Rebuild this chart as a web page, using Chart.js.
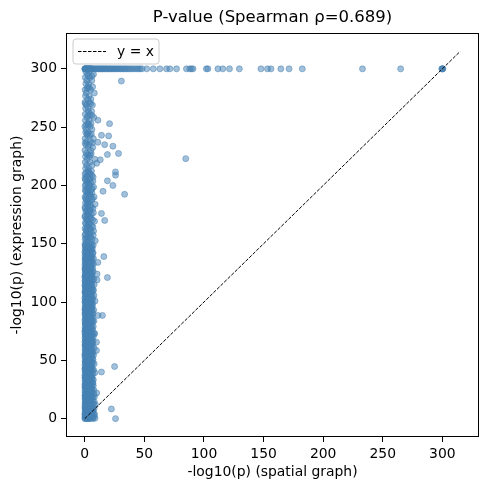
<!DOCTYPE html>
<html>
<head>
<meta charset="utf-8">
<script src="https://cdn.jsdelivr.net/npm/chart.js@4.4.0/dist/chart.umd.min.js"></script>
<style>
  html, body { margin: 0; padding: 0; background: #fff; }
  #wrap { width: 490px; height: 490px; }
</style>
</head>
<body>
<div id="wrap"><canvas id="myChart" width="490" height="490"></canvas></div>
<script>
var titleText = 'P-value (Spearman \u03c1=0.689)';
var xLabel = '-log10(p) (spatial graph)';
var yLabel = '-log10(p) (expression graph)';
var tickValues = [0, 50, 100, 150, 200, 250, 300];
var axisMin = -15.75, axisMax = 330.75;
var diagLine = [0, 315];

// points capped at -log10(p) = 300 (expression graph), spatial values
var capValue = 300;
var capRowX = [0.0, 0.2, 0.4, 0.6, 0.9, 1.3, 1.7, 2.1, 2.5, 2.8, 3.3, 3.6, 4.1, 4.5, 5.0, 5.2, 5.8, 6.1,
  7.0, 7.8, 8.9, 9.7, 10.8, 11.6, 12.7, 13.5, 14.6, 15.4, 16.5, 17.6, 18.4, 19.5, 20.7, 21.6, 22.8,
  23.9, 25.1, 26.2, 27.4, 28.7, 29.9, 31.2, 32.6, 33.9, 35.3, 36.8, 38.2, 39.9, 41.5, 43.2, 44.9, 46.4,
  48.0, 52.0, 57.5, 63.0, 68.6, 71.4, 77.0, 85.3, 88.0, 89.5, 90.8, 102.0, 103.3, 111.7, 115.8, 121.4,
  129.7, 147.8, 153.3, 156.2, 164.5, 171.4, 182.5, 233.0, 265.0, 299.5, 300.0, 300.2, 300.4];

// dense column near spatial = 0: [expression, spatial, spatial, ...]
var columnRows = [
  [0, 0.1, 1.2, 3.5, 6.8], [0.8, 0.4, 2.1, 5.0], [1.5, 0.2, 1.8, 4.3, 7.5], [2.6, 0.6, 3.0, 5.9],
  [3.4, 0.1, 2.4, 8.2], [4.7, 1.0, 3.8, 6.1], [5.9, 0.3, 2.7, 5.2], [7.1, 0.8, 4.4, 7.0],
  [8.2, 0.2, 1.9, 5.6], [9.8, 0.5, 3.3, 6.4], [11.0, 0.1, 2.2, 4.9], [12.5, 0.9, 3.6, 7.3],
  [13.7, 0.3, 2.8, 5.4], [15.2, 0.6, 4.1, 6.6], [16.8, 0.2, 1.7, 5.0], [18.1, 0.7, 3.4, 6.9],
  [19.6, 0.1, 2.5, 4.6], [21.0, 0.8, 3.9, 7.7], [22.4, 0.4, 2.0, 5.3], [23.9, 0.2, 3.1, 6.2],
  [25.3, 0.9, 4.5, 6.0], [26.6, 0.3, 2.6, 5.1], [28.2, 0.5, 3.7, 7.1], [29.5, 0.1, 1.6, 4.8],
  [31.0, 0.6, 3.2, 6.5], [32.6, 0.2, 2.3, 5.5], [34.1, 0.8, 4.0, 6.3], [35.5, 0.4, 2.9, 5.7],
  [37.0, 0.1, 1.9, 4.4], [38.6, 0.7, 3.5, 6.8], [40.1, 0.3, 2.4, 5.2], [41.7, 0.5, 4.2, 7.4],
  [43.0, 0.2, 2.1, 5.8], [44.6, 0.9, 3.3, 6.1], [46.2, 0.1, 2.7, 4.7], [47.8, 0.6, 3.8, 6.6],
  [49.1, 0.3, 1.8, 5.4], [50.7, 0.8, 3.0, 6.9], [52.3, 0.2, 2.6, 4.9], [53.8, 0.5, 4.1, 6.2],
  [55.2, 0.1, 2.2, 5.6], [56.9, 0.7, 3.4, 7.0], [58.3, 0.4, 2.8, 5.0], [59.9, 0.2, 1.5, 4.6],
  [61.4, 0.9, 3.7, 6.4], [62.8, 0.3, 2.4, 5.3], [64.5, 0.6, 4.3, 6.7], [66.0, 0.1, 2.0, 5.1],
  [67.4, 0.8, 3.1, 6.0], [69.1, 0.2, 2.9, 4.8], [70.6, 0.5, 3.6, 7.2], [72.2, 0.3, 1.7, 5.5],
  [73.7, 0.7, 4.0, 6.3], [75.1, 0.1, 2.5, 5.0], [76.8, 0.4, 3.2, 6.6], [78.2, 0.2, 2.1, 4.7],
  [79.9, 0.9, 3.9, 5.9], [81.5, 0.3, 2.6, 5.2], [83.0, 0.6, 1.9, 6.8], [84.6, 0.1, 3.4, 5.4],
  [86.1, 0.5, 2.3, 4.5], [87.7, 0.8, 3.7, 6.1], [89.2, 0.2, 2.8, 5.7], [90.8, 0.4, 1.6, 4.9],
  [92.3, 0.7, 3.0, 6.4], [93.9, 0.1, 2.4, 5.3], [95.4, 0.5, 4.2, 6.0], [97.0, 0.3, 2.0, 5.1],
  [98.5, 0.9, 3.5, 6.7], [100.1, 0.2, 2.7, 4.8], [101.8, 0.6, 3.8, 5.8], [103.2, 0.1, 1.8, 5.0],
  [104.9, 0.4, 3.1, 6.3], [106.4, 0.8, 2.5, 4.6], [108.0, 0.2, 3.6, 5.9], [109.6, 0.5, 2.2, 6.9],
  [111.1, 0.3, 4.0, 5.4], [112.7, 0.7, 2.9, 4.7], [114.3, 0.1, 1.7, 6.1], [115.8, 0.6, 3.3, 5.6],
  [117.4, 0.2, 2.6, 4.9], [119.0, 0.9, 3.9, 6.5], [120.6, 0.4, 2.1, 5.2], [122.2, 0.1, 3.0, 4.4],
  [123.7, 0.7, 2.4, 6.0], [125.3, 0.3, 3.7, 5.5], [127.0, 0.5, 1.9, 4.8], [128.6, 0.2, 2.8, 6.7],
  [130.1, 0.8, 3.4, 5.1], [131.8, 0.1, 2.3, 4.6], [133.3, 0.6, 3.8, 5.8], [135.0, 0.3, 2.0, 4.9],
  [136.6, 0.4, 3.2, 6.2], [138.2, 0.9, 2.6, 5.3], [139.8, 0.2, 4.1, 5.0], [141.5, 0.5, 2.2, 6.6],
  [143.0, 0.1, 3.5, 4.7], [144.7, 0.7, 2.9, 5.7], [146.3, 0.3, 1.8, 4.4], [148.0, 0.6, 3.1, 6.0],
  [149.6, 0.2, 2.5, 5.2],
  [151.5, 1.2, 4.6], [153.8, 0.3, 6.2], [156.0, 2.4, 5.1], [158.4, 0.7, 3.6], [160.9, 1.5, 7.4],
  [163.1, 0.2, 4.0], [165.7, 2.9, 5.8], [168.0, 0.5, 3.3], [170.6, 1.8, 6.6], [172.9, 0.1, 4.4],
  [175.3, 2.2, 5.5], [177.8, 0.9, 3.9], [180.2, 0.4, 6.9], [182.7, 2.6, 4.8], [185.0, 0.6, 3.0],
  [187.6, 1.4, 5.9], [190.1, 0.2, 7.8], [192.5, 3.1, 4.5], [194.9, 0.8, 2.7], [197.4, 1.7, 6.3],
  [199.8, 0.3, 4.1], [202.3, 2.5, 5.2], [204.9, 0.5, 3.5], [207.2, 1.1, 7.0], [209.8, 0.2, 4.7],
  [212.4, 2.8, 5.6], [214.7, 0.7, 3.2], [217.3, 1.6, 6.1], [219.9, 0.4, 4.3], [222.4, 2.1, 8.5],
  [224.8, 0.6, 3.7], [227.5, 1.3, 5.4], [230.1, 0.2, 4.9], [232.6, 2.7, 6.7], [235.0, 0.9, 3.4],
  [237.7, 1.5, 5.0], [240.2, 0.3, 7.2], [242.8, 2.3, 4.2], [245.5, 0.8, 3.0], [248.0, 1.0, 6.0],
  [250.6, 0.1, 4.6], [253.1, 2.6, 5.3], [255.8, 0.5, 3.8], [258.3, 1.9, 7.6], [261.0, 0.4, 4.4],
  [263.6, 3.0, 5.7], [266.1, 0.7, 2.9], [268.9, 1.4, 6.4], [271.4, 0.2, 4.0], [274.0, 2.4, 5.1],
  [276.7, 0.6, 3.6], [279.3, 1.2, 8.0], [282.0, 0.3, 4.8], [284.6, 2.8, 6.6], [287.3, 0.9, 3.3],
  [290.0, 1.7, 5.9], [292.6, 0.4, 4.5], [295.3, 2.2, 7.3], [297.8, 0.8, 3.9]
];

// second pass of column genes, filling between the rows above
var columnRowsExtra = [
  [0.4, 2.8, 4.9, 8.6], [1.1, 0.9, 5.7], [2.0, 2.6, 6.5], [3.0, 1.4, 4.8], [4.1, 0.2, 5.4, 7.9],
  [5.3, 2.0, 4.6], [6.5, 1.5, 6.9], [7.7, 2.9, 5.1], [9.0, 1.1, 7.8], [10.4, 2.6, 4.5],
  [11.8, 1.4, 6.0], [13.1, 0.5, 4.8], [14.5, 2.2, 8.0], [16.0, 1.0, 4.6], [17.4, 2.5, 5.9],
  [18.9, 1.3, 8.1], [20.3, 0.4, 5.7], [21.7, 2.6, 5.0], [23.2, 1.1, 4.4], [24.6, 2.3, 7.6],
  [26.0, 1.5, 5.6], [27.4, 0.2, 4.3], [28.9, 2.0, 5.8], [30.3, 1.2, 6.9], [31.8, 2.7, 4.0],
  [33.3, 1.4, 7.2], [34.8, 0.3, 5.0], [36.3, 2.5, 6.1], [37.8, 1.0, 4.7], [39.4, 2.1, 8.4],
  [40.9, 1.6, 4.5], [42.3, 0.2, 6.3], [43.8, 2.9, 5.3], [45.4, 1.3, 4.1], [47.0, 2.2, 7.9],
  [48.5, 0.5, 5.9], [49.9, 1.4, 4.3], [51.5, 2.8, 6.4], [53.0, 1.1, 5.2], [54.5, 0.2, 7.4],
  [56.0, 1.7, 4.8], [57.6, 2.6, 6.1], [59.1, 1.0, 5.5], [60.6, 2.3, 7.8], [62.1, 1.5, 4.2],
  [63.6, 0.3, 5.9], [65.2, 2.2, 4.9], [66.7, 1.3, 7.0], [68.3, 2.5, 5.3], [69.8, 1.0, 4.0],
  [71.4, 2.0, 6.3], [73.0, 1.5, 8.3], [74.4, 0.2, 4.6], [76.0, 2.7, 5.8], [77.5, 1.1, 4.3],
  [79.0, 2.4, 7.1], [80.7, 1.6, 4.5], [82.2, 0.4, 5.7], [83.8, 2.1, 7.7], [85.3, 1.2, 6.5],
  [86.9, 2.9, 5.0], [88.5, 1.0, 4.4], [90.0, 2.3, 6.9], [91.6, 1.4, 5.4], [93.1, 0.3, 7.5],
  [94.7, 2.2, 4.8], [96.2, 1.3, 6.3], [97.8, 2.6, 4.2], [99.3, 1.1, 5.6], [100.9, 0.4, 8.6],
  [102.5, 2.0, 6.6], [104.0, 1.5, 4.3], [105.7, 2.8, 7.7], [107.2, 1.2, 5.3], [108.8, 0.3, 4.1],
  [110.3, 2.4, 7.3], [111.9, 1.6, 6.2], [113.5, 0.5, 4.4], [115.0, 2.1, 7.9], [116.6, 1.0, 5.0],
  [118.2, 2.7, 4.2], [119.8, 1.3, 7.6], [121.4, 0.2, 6.2], [123.0, 2.2, 5.6], [124.5, 1.4, 4.0],
  [126.2, 2.6, 7.0], [127.8, 1.1, 5.4], [129.3, 0.4, 4.3], [131.0, 2.0, 6.1], [132.6, 1.5, 7.2],
  [134.2, 2.8, 5.6], [135.8, 1.2, 4.5], [137.4, 0.3, 7.3], [139.0, 2.2, 5.9], [140.7, 1.3, 4.2],
  [142.2, 2.5, 7.0], [143.8, 1.0, 5.4], [145.5, 2.1, 6.3], [147.1, 1.5, 4.7], [148.8, 0.4, 7.1],
  [152.6, 2.2, 8.8], [154.9, 1.0, 3.9], [157.2, 0.2, 7.1], [159.6, 2.6, 5.5], [162.0, 1.1, 4.7],
  [164.4, 2.0, 6.8], [166.9, 0.9, 4.2], [169.3, 2.7, 8.2], [171.7, 1.3, 5.0], [174.1, 0.4, 3.7],
  [176.5, 2.8, 7.2], [179.0, 1.6, 4.5], [181.4, 0.2, 5.6], [183.9, 1.9, 8.7], [186.3, 2.7, 4.2],
  [188.8, 0.7, 6.4], [191.3, 1.5, 4.9], [193.7, 2.3, 6.0], [196.2, 0.4, 5.3], [198.6, 2.9, 7.4],
  [201.0, 1.0, 3.8], [203.6, 1.8, 6.8], [206.0, 0.3, 4.4], [208.5, 2.4, 5.9], [211.1, 1.2, 3.6],
  [226.1, 2.5, 4.6], [236.3, 0.4, 6.3], [244.1, 1.8, 5.5], [251.9, 1.2, 3.2], [260.0, 2.6, 6.0],
  [270.1, 0.5, 5.0], [283.3, 1.9, 3.7], [293.9, 2.9, 6.1]
];

// third pass for the darkest (low-p) part of the column
var columnRowsLow = [
  [0.2, 1.6, 3.9], [1.9, 0.8, 3.3], [3.8, 1.9, 4.0], [5.6, 0.5, 3.6], [7.4, 1.7, 3.2],
  [9.3, 0.3, 2.9], [11.3, 1.5, 3.8], [13.4, 0.9, 3.1], [15.6, 1.9, 4.2], [17.8, 0.4, 3.0],
  [19.9, 1.3, 3.7], [22.0, 0.7, 4.1], [24.2, 1.8, 3.3], [26.3, 0.5, 3.9], [28.5, 1.4, 3.0],
  [30.6, 0.9, 4.3], [32.9, 1.6, 3.5], [35.0, 0.3, 3.2], [37.3, 1.2, 4.0], [39.6, 0.8, 3.4],
  [41.9, 1.9, 3.0], [44.1, 0.4, 3.8], [46.5, 1.4, 4.2], [48.8, 0.9, 3.3], [51.1, 1.7, 3.6],
  [53.4, 0.5, 3.0], [55.7, 1.3, 4.1], [58.0, 0.8, 3.5], [60.3, 1.8, 3.2], [62.5, 0.3, 3.9],
  [64.9, 1.5, 3.4], [67.2, 0.7, 4.0], [69.5, 1.6, 3.1], [71.9, 0.4, 3.7], [74.2, 1.2, 3.3],
  [76.4, 0.9, 4.2], [78.8, 1.9, 3.0], [81.1, 0.5, 3.6], [83.4, 1.4, 3.9], [85.8, 0.8, 3.2],
  [88.1, 1.7, 3.8], [90.4, 0.3, 3.4], [92.8, 1.3, 4.1], [95.1, 0.7, 3.0], [97.4, 1.8, 3.6],
  [99.7, 0.4, 3.3], [102.1, 1.5, 4.0], [104.4, 0.9, 3.1], [106.8, 1.6, 3.7], [109.1, 0.5, 4.2],
  [111.5, 1.2, 3.4], [113.9, 0.8, 3.0], [116.2, 1.9, 3.8], [118.6, 0.3, 3.5], [121.0, 1.4, 4.1],
  [123.3, 0.7, 3.2], [125.7, 1.7, 3.9], [128.0, 0.4, 3.3], [130.5, 1.3, 4.0], [132.9, 0.9, 3.6]
];

// scattered points away from the column: [spatial, expression]
var outliers = [
  [30.7, 289.5], [20.8, 253], [11, 256], [20, 242.5], [14, 243], [16.7, 235], [23.6, 233.7],
  [11, 237], [28.3, 227.4], [19, 226.5], [84.7, 223], [13, 222], [10, 219], [25.8, 211.6],
  [25.8, 208.8], [19, 204], [23.6, 200], [33.4, 192.4], [15.3, 195], [14, 176], [16.7, 170],
  [16, 139], [19, 121], [10.3, 119], [10.3, 124], [11, 134], [25, 44.7], [14, 40], [22.3, 8.3],
  [25.8, 0], [14.8, 88.5], [11, 88.5], [9.8, 65.6], [9.8, 58.4], [8, 73], [10, 22], [9, 12]
];

var points = [];
capRowX.forEach(function (x) { points.push({x: x, y: capValue}); });
columnRows.concat(columnRowsExtra, columnRowsLow).forEach(function (row) {
  for (var i = 1; i < row.length; i++) points.push({x: row[i], y: row[0]});
});
outliers.forEach(function (p) { points.push({x: p[0], y: p[1]}); });

// matplotlib-like frame, title and legend
var decor = {
  id: 'decor',
  afterDraw: function (chart) {
    var c = chart.ctx, a = chart.chartArea;
    c.save();
    c.strokeStyle = '#000';
    c.lineWidth = 1;
    c.strokeRect(a.left + 0.5, a.top + 0.5, a.right - a.left - 1, a.bottom - a.top - 1);

    c.fillStyle = '#000';
    c.font = '16.5px "DejaVu Sans"';
    c.textAlign = 'center';
    c.textBaseline = 'middle';
    c.fillText(titleText, (a.left + a.right) / 2, 18);

    // legend box
    var bx = a.left + 7, by = a.top + 6, bw = 86, bh = 25, r = 3;
    c.beginPath();
    c.moveTo(bx + r, by);
    c.arcTo(bx + bw, by, bx + bw, by + bh, r);
    c.arcTo(bx + bw, by + bh, bx, by + bh, r);
    c.arcTo(bx, by + bh, bx, by, r);
    c.arcTo(bx, by, bx + bw, by, r);
    c.closePath();
    c.fillStyle = 'rgba(255,255,255,0.8)';
    c.fill();
    c.strokeStyle = '#cccccc';
    c.stroke();
    c.beginPath();
    c.setLineDash([3.5, 1.5]);
    c.strokeStyle = '#000';
    c.lineWidth = 1;
    c.moveTo(bx + 5, by + 12.5);
    c.lineTo(bx + 33, by + 12.5);
    c.stroke();
    c.setLineDash([]);
    c.fillStyle = '#000';
    c.font = '13.9px "DejaVu Sans"';
    c.textAlign = 'left';
    c.fillText('y = x', bx + 44, by + 13);
    c.restore();
  }
};

function axisOpts(isX) {
  return {
    type: 'linear',
    min: axisMin,
    max: axisMax,
    afterBuildTicks: function (s) { s.ticks = tickValues.map(function (v) { return {value: v}; }); },
    afterFit: function (s) {
      if (isX) s.height = 53; else s.width = 66;
    },
    grid: { display: true, drawOnChartArea: false, drawTicks: true, tickLength: 5, color: '#000', lineWidth: 1 },
    border: { display: false },
    ticks: { color: '#000', padding: 4, font: { family: 'DejaVu Sans', size: 13.9 } },
    title: {
      display: true,
      text: isX ? xLabel : yLabel,
      color: '#000',
      font: { family: 'DejaVu Sans', size: 13.9 },
      padding: isX ? { top: 0, bottom: 9 } : { top: 9, bottom: 0 }
    }
  };
}

var ctx = document.getElementById('myChart').getContext('2d');
var myChart = new Chart(ctx, {
  type: 'scatter',
  data: {
    datasets: [{
      type: 'line',
      label: 'y = x',
      data: [{x: diagLine[0], y: diagLine[0]}, {x: diagLine[1], y: diagLine[1]}],
      borderColor: '#000',
      borderWidth: 1,
      borderDash: [3.5, 1.5],
      pointRadius: 0,
      fill: false,
      order: 0
    }, {
      label: 'genes',
      data: points,
      backgroundColor: 'rgba(70, 130, 180, 0.5)',
      borderColor: 'rgba(70, 130, 180, 0.5)',
      borderWidth: 1,
      pointRadius: 3,
      order: 1
    }]
  },
  options: {
    responsive: false,
    animation: false,
    devicePixelRatio: 1,
    layout: { padding: { top: 33, right: 11, left: 0, bottom: 0 } },
    plugins: { legend: { display: false }, tooltip: { enabled: false }, title: { display: false } },
    scales: { x: axisOpts(true), y: axisOpts(false) }
  },
  plugins: [decor]
});
</script>
</body>
</html>
